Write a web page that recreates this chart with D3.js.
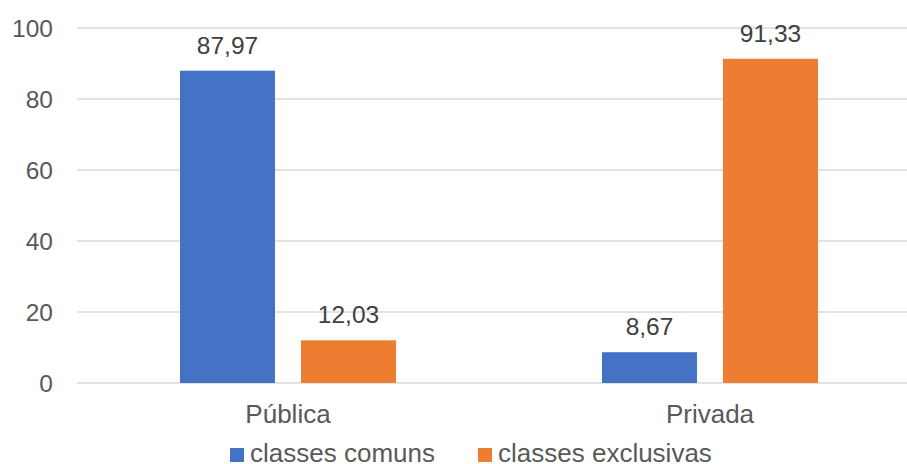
<!DOCTYPE html>
<html>
<head>
<meta charset="utf-8">
<script src="https://cdn.jsdelivr.net/npm/d3@7"></script>
<style>
  body { margin: 0; background: #fff; }
  text { font-family: "Liberation Sans", Arial, sans-serif; }
</style>
</head>
<body>
<script>
// data
const categories = ["Pública", "Privada"];
const seriesNames = ["classes comuns", "classes exclusivas"];
const comuns = [87.97, 8.67];
const exclusivas = [12.03, 91.33];
const yTicks = [0, 20, 40, 60, 80, 100];
const colors = ["#4472c4", "#ed7d31"];

const width = 907, height = 464;
const margin = { top: 28, left: 77, bottom: 81 };

const svg = d3.select("body").append("svg")
  .attr("width", width)
  .attr("height", height);

const x = d3.scaleBand()
  .domain(categories)
  .range([margin.left, margin.left + 844]);

const x1 = d3.scaleBand()
  .domain(seriesNames)
  .range([103, 319])
  .paddingInner(26 / 121);

const y = d3.scaleLinear()
  .domain([0, 100])
  .range([height - margin.bottom, margin.top]);

// gridlines
svg.append("g")
  .selectAll("line")
  .data(yTicks)
  .enter()
  .append("line")
  .attr("x1", margin.left)
  .attr("x2", width)
  .attr("y1", d => y(d))
  .attr("y2", d => y(d))
  .attr("stroke", "#d9d9d9")
  .attr("stroke-width", 1.5);

// y labels
svg.append("g")
  .selectAll("text")
  .data(yTicks)
  .enter()
  .append("text")
  .attr("x", 53)
  .attr("y", d => y(d))
  .attr("dy", "0.35em")
  .attr("text-anchor", "end")
  .attr("font-size", 24.5)
  .attr("fill", "#595959")
  .text(d => d);

const rows = categories.map((c, i) => ({
  cat: c,
  vals: [comuns[i], exclusivas[i]]
}));

const groups = svg.append("g")
  .selectAll("g")
  .data(rows)
  .enter()
  .append("g")
  .attr("transform", d => `translate(${x(d.cat)},0)`);

const bars = groups.selectAll("g")
  .data(d => d.vals.map((v, j) => ({ name: seriesNames[j], v: v, j: j })))
  .enter()
  .append("g");

bars.append("rect")
  .attr("x", d => x1(d.name))
  .attr("width", x1.bandwidth())
  .attr("y", d => y(d.v))
  .attr("height", d => y(0) - y(d.v))
  .attr("fill", d => colors[d.j]);

bars.append("text")
  .attr("x", d => x1(d.name) + x1.bandwidth() / 2)
  .attr("y", d => y(d.v) - 17)
  .attr("text-anchor", "middle")
  .attr("font-size", 24.5)
  .attr("fill", "#404040")
  .text(d => d3.format(".2f")(d.v).replace(".", ","));

// category labels
svg.append("g")
  .selectAll("text")
  .data(categories)
  .enter()
  .append("text")
  .attr("x", d => x(d) + x.bandwidth() / 2)
  .attr("y", 423)
  .attr("text-anchor", "middle")
  .attr("font-size", 26)
  .attr("fill", "#595959")
  .text(d => d);

// legend
const legendX = [230, 478];
const legend = svg.append("g")
  .selectAll("g")
  .data(seriesNames)
  .enter()
  .append("g")
  .attr("transform", (d, i) => `translate(${legendX[i]},448)`);

legend.append("rect")
  .attr("width", 14)
  .attr("height", 14)
  .attr("fill", (d, i) => colors[i]);

legend.append("text")
  .attr("x", 20)
  .attr("y", 14)
  .attr("font-size", 26)
  .attr("fill", "#595959")
  .text(d => d);
</script>
</body>
</html>
